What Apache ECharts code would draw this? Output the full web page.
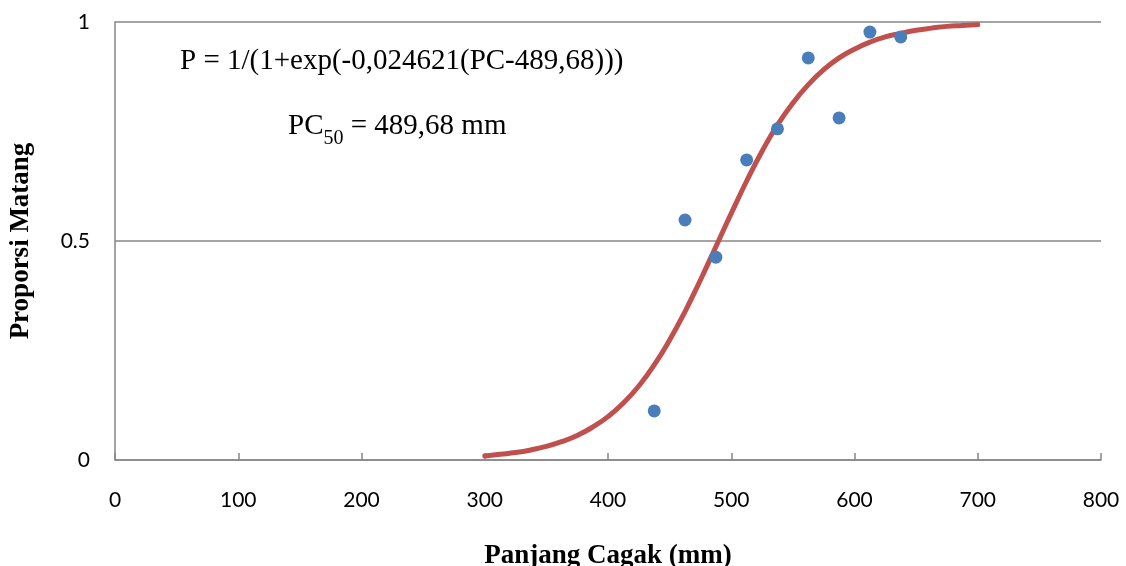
<!DOCTYPE html>
<html>
<head>
<meta charset="utf-8">
<script src="https://cdn.jsdelivr.net/npm/echarts@6/dist/echarts.min.js"></script>
<style>
    html, body {margin: 0; padding: 0; background: #fff;}
    #main {width: 1126px; height: 566px;}
</style>
</head>
<body>
<div id="main"></div>
<script>
    // observed proportions (class midpoints)
    var obsX = [437.5, 462.5, 487.5, 512.5, 537.5, 562.5, 587.5, 612.5, 637.5];
    var obsY = [0.112, 0.548, 0.463, 0.685, 0.756, 0.918, 0.781, 0.977, 0.966];
    // fitted curve
    var curveX = [300, 312.5, 325, 337.5, 350, 362.5, 375, 387.5, 400, 412.5, 425, 437.5, 450, 462.5, 475, 487.5,
        500, 512.5, 525, 537.5, 550, 562.5, 575, 587.5, 600, 612.5, 625, 637.5, 650, 662.5, 675, 687.5, 700];
    var curveY = [0.009, 0.013, 0.017, 0.023, 0.031, 0.042, 0.056, 0.075, 0.099, 0.130, 0.169, 0.217, 0.274, 0.339, 0.411, 0.487,
        0.563, 0.637, 0.705, 0.765, 0.815, 0.857, 0.891, 0.918, 0.938, 0.954, 0.966, 0.974, 0.981, 0.986, 0.990, 0.992, 0.994];
    var xTicks = [0, 100, 200, 300, 400, 500, 600, 700, 800];

    var chart = echarts.init(document.getElementById('main'));
    var gray = '#868686';
    var serif = '"Liberation Serif", "Times New Roman", serif';
    var sans = 'Lato, "Open Sans", sans-serif';

    chart.setOption({
        animation: false,
        title: [
            {
                text: 'P = 1/(1+exp(-0,024621(PC-489,68)))',
                left: 175, top: 42,
                textStyle: {fontFamily: serif, fontSize: 29, fontWeight: 'normal', color: '#000'}
            },
            {
                text: '{a|PC}{b|50}{a| = 489,68 mm}',
                left: 283, top: 107,
                textStyle: {
                    fontWeight: 'normal',
                    rich: {
                        a: {fontFamily: serif, fontSize: 29, fontWeight: 'normal', color: '#000', lineHeight: 30,
                            verticalAlign: 'top'},
                        b: {fontFamily: serif, fontSize: 20, fontWeight: 'normal', color: '#000', lineHeight: 20,
                            verticalAlign: 'top', padding: [17, 0, 0, 0]}
                    }
                }
            }
        ],
        grid: {left: 115, right: 25, top: 22, bottom: 106, outerBoundsMode: 'none'},
        xAxis: {
            type: 'value', min: 0, max: 800, interval: 100,
            name: 'Panjang Cagak (mm)', nameLocation: 'middle', nameGap: 83,
            nameTextStyle: {fontFamily: serif, fontSize: 27, fontWeight: 'bold', color: '#000'},
            axisLine: {show: true, lineStyle: {color: gray, width: 1.5}},
            axisTick: {show: true, inside: true, length: 7, lineStyle: {color: gray, width: 1.5}},
            axisLabel: {fontFamily: sans, fontSize: 21, color: '#000', margin: 30,
                formatter: function (v) { return xTicks.indexOf(v) >= 0 ? String(v) : ''; }},
            splitLine: {show: false}
        },
        yAxis: {
            type: 'value', min: 0, max: 1, interval: 0.5,
            name: 'Proporsi Matang', nameLocation: 'middle', nameGap: 80, nameRotate: 90,
            nameTextStyle: {fontFamily: serif, fontSize: 27, fontWeight: 'bold', color: '#000'},
            axisLine: {show: true, lineStyle: {color: gray, width: 1.5}},
            axisTick: {show: false},
            axisLabel: {fontFamily: sans, fontSize: 21, color: '#000', margin: 25},
            splitLine: {show: true, lineStyle: {color: gray, width: 1.5}}
        },
        series: [
            {
                type: 'line', smooth: true, showSymbol: false, z: 2,
                data: curveX.map(function (x, i) { return [x, curveY[i]]; }),
                lineStyle: {color: '#c0504d', width: 5, cap: 'round'}
            },
            {
                type: 'scatter', symbolSize: 13, z: 3,
                data: obsX.map(function (x, i) { return [x, obsY[i]]; }),
                itemStyle: {color: '#4a7ebb', opacity: 1}
            }
        ]
    });
</script>
</body>
</html>
